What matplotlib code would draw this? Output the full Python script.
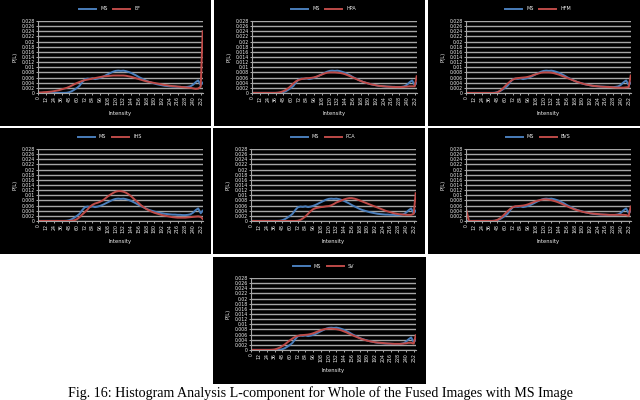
import numpy as np
import matplotlib
matplotlib.use('Agg')
import matplotlib.pyplot as plt
from matplotlib.lines import Line2D

# intensity levels sampled every 4 grey levels (plus the last one)
intensity = list(range(0, 253, 4)) + [255]

# P(L) values in units of 1e-3
ms = [0.05, 0.05, 0.05, 0.05, 0.05, 0.05, 0.05, 0.05,
      0.05, 0.05, 0.05, 0.1, 0.3, 0.7, 1.3, 2.0,
      2.8, 4.2, 5.3, 5.6, 5.5, 5.7, 5.4, 5.6,
      5.9, 6.3, 6.8, 7.3, 7.8, 8.3, 8.6, 8.7,
      8.6, 8.7, 8.5, 8.2, 7.8, 7.3, 6.8, 6.2,
      5.7, 5.2, 4.7, 4.3, 4.0, 3.7, 3.4, 3.2,
      3.0, 2.8, 2.7, 2.6, 2.5, 2.5, 2.4, 2.4,
      2.3, 2.3, 2.4, 2.6, 3.2, 4.2, 4.9, 3.0,
      4.0]

ef = [0.2, 0.2, 0.3, 0.35, 0.45, 0.55, 0.7, 0.9,
      1.1, 1.4, 1.7, 2.0, 2.4, 2.9, 3.4, 3.9,
      4.3, 4.7, 5.0, 5.2, 5.4, 5.6, 5.8, 6.0,
      6.2, 6.4, 6.5, 6.6, 6.7, 6.8, 6.8, 6.8,
      6.8, 6.8, 6.7, 6.5, 6.3, 6.0, 5.7, 5.4,
      5.1, 4.8, 4.5, 4.3, 4.1, 3.9, 3.7, 3.5,
      3.3, 3.1, 3.0, 2.8, 2.7, 2.6, 2.5, 2.4,
      2.3, 2.2, 2.1, 2.0, 1.8, 1.6, 1.7, 2.5,
      24.0]

hpa = [0.05, 0.05, 0.05, 0.05, 0.05, 0.05, 0.05, 0.05,
       0.05, 0.05, 0.15, 0.35, 0.7, 1.2, 1.9, 2.8,
       3.8, 4.6, 5.1, 5.4, 5.6, 5.7, 5.8, 5.9,
       6.1, 6.4, 6.8, 7.2, 7.6, 7.9, 8.0, 8.0,
       8.0, 7.9, 7.8, 7.6, 7.3, 6.9, 6.5, 6.0,
       5.6, 5.1, 4.7, 4.3, 4.0, 3.7, 3.4, 3.2,
       3.0, 2.8, 2.7, 2.6, 2.5, 2.4, 2.4, 2.3,
       2.3, 2.3, 2.3, 2.4, 2.5, 2.6, 2.6, 2.6,
       6.5]

hfm = [0.02, 0.02, 0.02, 0.02, 0.02, 0.02, 0.02, 0.02,
       0.02, 0.02, 0.02, 0.02, 0.2, 0.8, 1.6, 2.6,
       3.6, 4.5, 5.2, 5.6, 5.8, 5.9, 6.0, 6.1,
       6.3, 6.6, 7.0, 7.3, 7.6, 7.9, 8.0, 8.0,
       8.0, 7.9, 7.7, 7.4, 7.1, 6.7, 6.3, 5.9,
       5.5, 5.1, 4.7, 4.3, 4.0, 3.7, 3.4, 3.2,
       3.0, 2.8, 2.7, 2.6, 2.5, 2.4, 2.4, 2.3,
       2.3, 2.2, 2.1, 2.1, 2.1, 2.1, 2.2, 2.3,
       6.8]

ihs = [0.02, 0.02, 0.02, 0.02, 0.02, 0.02, 0.02, 0.02,
       0.02, 0.02, 0.02, 0.02, 0.02, 0.1, 0.3, 0.7,
       1.5, 2.5, 3.4, 4.4, 5.5, 6.3, 6.8, 7.1,
       7.5, 8.0, 8.8, 9.6, 10.3, 10.9, 11.4, 11.6,
       11.6, 11.4, 11.0, 10.4, 9.6, 8.7, 7.8, 6.9,
       6.0, 5.3, 4.6, 4.1, 3.6, 3.2, 2.9, 2.6,
       2.3, 2.1, 1.9, 1.7, 1.5, 1.4, 1.3, 1.3,
       1.3, 1.3, 1.4, 1.5, 1.6, 1.7, 1.8, 1.6,
       0.8]

pca = [0.02, 0.02, 0.02, 0.02, 0.02, 0.02, 0.02, 0.02,
       0.02, 0.02, 0.02, 0.02, 0.02, 0.02, 0.02, 0.02,
       0.02, 0.02, 0.1, 0.4, 1.0, 1.8, 2.8, 3.8,
       4.6, 5.0, 5.2, 5.4, 5.5, 5.7, 5.8, 6.1,
       6.6, 7.2, 7.6, 8.0, 8.4, 8.7, 8.9, 8.9,
       8.7, 8.4, 8.0, 7.6, 7.2, 6.8, 6.4, 6.0,
       5.6, 5.2, 4.8, 4.4, 4.0, 3.7, 3.4, 3.1,
       2.9, 2.7, 2.6, 2.5, 2.4, 2.4, 2.4, 2.8,
       10.8]

bvs = [4.3, 0.02, 0.02, 0.02, 0.02, 0.02, 0.02, 0.02,
       0.02, 0.02, 0.02, 0.1, 0.4, 1.0, 1.8, 2.8,
       3.8, 4.7, 5.4, 5.7, 5.8, 5.9, 6.0, 6.2,
       6.5, 6.9, 7.3, 7.7, 8.0, 8.2, 8.4, 8.4,
       8.3, 8.1, 7.8, 7.5, 7.1, 6.7, 6.2, 5.8,
       5.3, 4.9, 4.5, 4.2, 3.9, 3.6, 3.4, 3.2,
       3.0, 2.9, 2.8, 2.7, 2.6, 2.5, 2.5, 2.4,
       2.4, 2.4, 2.4, 2.4, 2.4, 2.4, 2.3, 2.0,
       5.6]

sv = [0.05, 0.05, 0.05, 0.05, 0.05, 0.05, 0.05, 0.05,
      0.1, 0.2, 0.5, 0.9, 1.5, 2.2, 3.0, 3.8,
      4.5, 5.1, 5.5, 5.7, 5.8, 5.9, 6.0, 6.2,
      6.5, 6.9, 7.3, 7.7, 8.0, 8.2, 8.3, 8.3,
      8.2, 8.1, 7.9, 7.6, 7.2, 6.8, 6.3, 5.9,
      5.4, 5.0, 4.6, 4.2, 3.9, 3.6, 3.4, 3.2,
      3.0, 2.9, 2.8, 2.7, 2.6, 2.5, 2.5, 2.4,
      2.4, 2.4, 2.4, 2.5, 2.6, 2.8, 2.8, 2.5,
      5.7]

xtick_vals = list(range(0, 253, 12))
ytick_vals = [i * 0.002 for i in range(15)]

method_names = ['EF', 'HPA', 'HFM', 'IHS', 'PCA', 'BVS', 'SV']
method_data = [ef, hpa, hfm, ihs, pca, bvs, sv]

caption = 'Fig. 16: Histogram Analysis L-component for Whole of the Fused Images with MS Image'

W, H = 640.0, 400.0
# panel boxes in pixels: left, top, width, height
panels = [(0, 0, 211, 126), (214, 0, 211, 126), (428, 0, 212, 126),
          (0, 128, 211, 126), (213, 128, 212, 126), (428, 128, 212, 126),
          (213, 257, 213, 127)]

blue = '#4A7EBB'
red = '#BE4B48'
white = '#f0f0f0'


def fig_rect(l, t, w, h):
    return [l / W, 1 - (t + h) / H, w / W, h / H]


def draw_panel(fig, box, name, data):
    l, t, w, h = box
    bg = fig.add_axes(fig_rect(l, t, w, h))
    bg.set_facecolor('black')
    bg.set_xticks([])
    bg.set_yticks([])
    for s in bg.spines.values():
        s.set_visible(False)

    ax = fig.add_axes(fig_rect(l + 38, t + 21, 165, 72))
    ax.set_facecolor('black')
    x = np.array(intensity)
    ax.plot(x, np.array(ms) / 1000.0, color=blue, lw=1.4, label='MS')
    ax.plot(x, np.array(data) / 1000.0, color=red, lw=1.4, label=name)

    ax.set_xlim(-0.5, 255.5)
    ax.set_ylim(0, 0.028)
    ax.set_yticks(ytick_vals)
    ax.set_yticklabels([('%.3f' % v).rstrip('0').rstrip('.') for v in ytick_vals])
    ax.set_xticks(xtick_vals)
    ax.set_xticklabels([str(v) for v in xtick_vals], rotation=90)
    ax.tick_params(colors=white, labelsize=3.3, length=1.5, width=0.5, pad=1)
    ax.yaxis.grid(True, color='#a6a6a6', lw=1.0)
    ax.set_axisbelow(True)
    for s in ['top', 'right']:
        ax.spines[s].set_visible(False)
    for s in ['left', 'bottom']:
        ax.spines[s].set_color('#a6a6a6')
        ax.spines[s].set_linewidth(0.8)

    ax.set_xlabel('Intensity', color=white, fontsize=3.8, labelpad=4)
    ax.set_ylabel('P(L)', color=white, fontsize=3.8, labelpad=3)

    handles = [Line2D([], [], color=blue, lw=1.4), Line2D([], [], color=red, lw=1.4)]
    leg = ax.legend(handles, ['MS', name], loc='center', ncol=2, frameon=False,
                    fontsize=3.5, handlelength=3.5, columnspacing=1.2,
                    bbox_to_anchor=((l + w * 0.52) / W, 1 - (t + 9) / H),
                    bbox_transform=fig.transFigure)
    for txt in leg.get_texts():
        txt.set_color(white)


fig = plt.figure(figsize=(6.4, 4.0), dpi=100)
fig.patch.set_facecolor('white')

for i in range(len(panels)):
    draw_panel(fig, panels[i], method_names[i], method_data[i])

fig.text(0.5, 1 - 393 / H, caption, ha='center', va='center',
         fontsize=10.1, family='Liberation Serif', color='black')

fig.savefig('out.png', dpi=100, facecolor='white')
